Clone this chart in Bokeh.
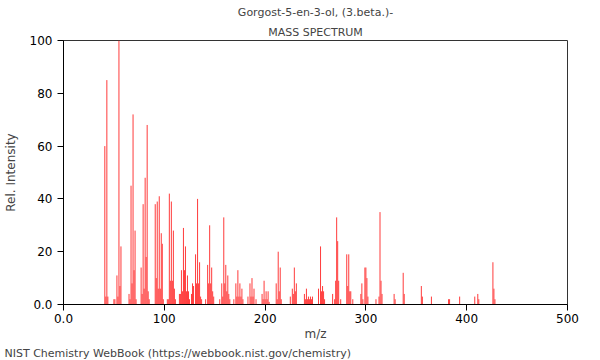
from bokeh.plotting import figure
from bokeh.models import Range1d, Title
from bokeh.embed import file_html
from bokeh.resources import INLINE

mz = [41, 42, 43, 44, 50, 51, 53, 54, 55, 56, 57,
      65, 66, 67, 68, 69, 70, 71, 72,
      77, 78, 79, 80, 81, 82, 83, 84, 85,
      91, 92, 93, 94, 95, 96, 97, 98, 99,
      103, 104, 105, 106, 107, 108, 109, 110, 111,
      115, 116, 117, 118, 119, 120, 121, 122, 123, 124, 125,
      127, 128, 129, 131, 132, 133, 134, 135, 136, 137,
      141, 143, 144, 145, 146, 147, 148, 149,
      155, 157, 158, 159, 160, 161, 162, 163, 164, 165,
      169, 171, 172, 173, 174, 175, 176, 177, 178,
      183, 185, 186, 187, 188, 189, 191,
      197, 198, 199, 200, 201, 202, 203, 204,
      211, 212, 213, 214, 215, 216,
      225, 227, 228, 229, 230, 231,
      239, 240, 241, 242, 243, 244, 245, 246, 247,
      253, 255, 256, 257, 258, 259,
      267, 269, 270, 271, 272, 273, 275,
      281, 282, 283, 284, 285, 287,
      295, 296, 297, 299, 300, 301, 302,
      310, 313, 314, 315, 316,
      328, 329, 337, 338, 355, 356, 365,
      382, 383, 393, 408, 411, 412, 426, 427, 428]
intensity = [60, 3, 85, 3, 2, 2, 11, 3, 100, 7, 22,
             4, 2, 45, 8, 72, 13, 28, 2,
             14, 4, 38, 6, 48, 18, 68, 5, 2,
             38, 10, 39, 6, 41, 6, 27, 23, 2,
             2, 2, 42, 9, 39, 9, 28, 6, 2,
             4, 4, 13, 5, 29, 13, 22, 5, 11, 5, 2,
             4, 8, 7, 19, 8, 40, 8, 16, 3, 2,
             2, 15, 8, 30, 8, 14, 5, 3,
             2, 8, 3, 33, 8, 15, 5, 11, 4, 2,
             2, 8, 3, 13, 3, 8, 3, 6, 2,
             3, 8, 3, 10, 3, 6, 2,
             4, 2, 9, 2, 5, 2, 5, 1,
             8, 2, 20, 5, 14, 2,
             3, 6, 4, 14, 5, 8,
             4, 2, 6, 2, 3, 2, 3, 2, 3,
             6, 22, 5, 7, 5, 2,
             4, 2, 9, 33, 24, 9, 2,
             19, 7, 19, 5, 5, 2,
             4, 8, 2, 14, 14, 10, 3,
             2, 3, 35, 9, 4,
             4, 2, 12, 4, 7, 3, 3,
             2, 2, 3, 3, 4, 2, 16, 6, 2]

title_text = "Gorgost-5-en-3-ol, (3.beta.)-"
subtitle_text = "MASS SPECTRUM"
footer_text = "NIST Chemistry WebBook (https://webbook.nist.gov/chemistry)"
x_ticks = [0, 100, 200, 300, 400, 500]
y_ticks = [0, 20, 40, 60, 80, 100]

FONT = "DejaVu Sans"

p = figure(frame_width=504, frame_height=264, output_backend="svg", toolbar_location=None,
           x_range=Range1d(0, 500), y_range=Range1d(0, 100))
p.min_border_left = 62
p.min_border_right = 18
p.min_border_top = 0
p.min_border_bottom = 0

p.segment(x0=mz, y0=[0] * len(mz), x1=mz, y1=intensity, line_color="#ff3b3b", line_width=1)

p.xgrid.visible = False
p.ygrid.visible = False
p.outline_line_color = "#333333"
p.outline_line_width = 1

for ax in (p.xaxis, p.yaxis):
    ax.major_label_text_font = FONT
    ax.major_label_text_font_size = "12px"
    ax.major_label_text_color = "black"
    ax.axis_label_text_font = FONT
    ax.axis_label_text_font_size = "12px"
    ax.axis_label_text_font_style = "normal"
    ax.axis_line_color = "black"
    ax.major_tick_line_color = "black"
    ax.minor_tick_line_color = "black"
    ax.major_tick_in = 0
    ax.minor_tick_in = 0
    ax.major_label_standoff = 3
    ax.axis_label_standoff = 4

p.xaxis.ticker = x_ticks
p.yaxis.ticker = y_ticks
p.xaxis.ticker.num_minor_ticks = 10
p.yaxis.ticker.num_minor_ticks = 4
p.xaxis.major_label_overrides = {0: "0.0"}
p.yaxis.major_label_overrides = {0: "0.0"}
p.xaxis.axis_label = "m/z"
p.yaxis.axis_label = "Rel. Intensity"
p.xaxis.major_tick_out = 6
p.xaxis.minor_tick_out = 3
p.yaxis.major_tick_out = 6
p.yaxis.minor_tick_out = 3
p.xaxis.axis_label_standoff = 1
p.yaxis.major_label_standoff = 5
p.yaxis.axis_label_standoff = 9

p.add_layout(Title(text=subtitle_text, align="center", text_font=FONT,
                   text_font_size="11px", text_font_style="normal", standoff=4), "above")
p.add_layout(Title(text=title_text, align="center", text_font=FONT,
                   text_font_size="11px", text_font_style="normal", standoff=6), "above")
p.add_layout(Title(text=footer_text, align="left", text_font=FONT,
                   text_font_size="11px", text_font_style="normal", offset=-59, standoff=2), "below")

open("out.html", "w").write(file_html(p, INLINE))
